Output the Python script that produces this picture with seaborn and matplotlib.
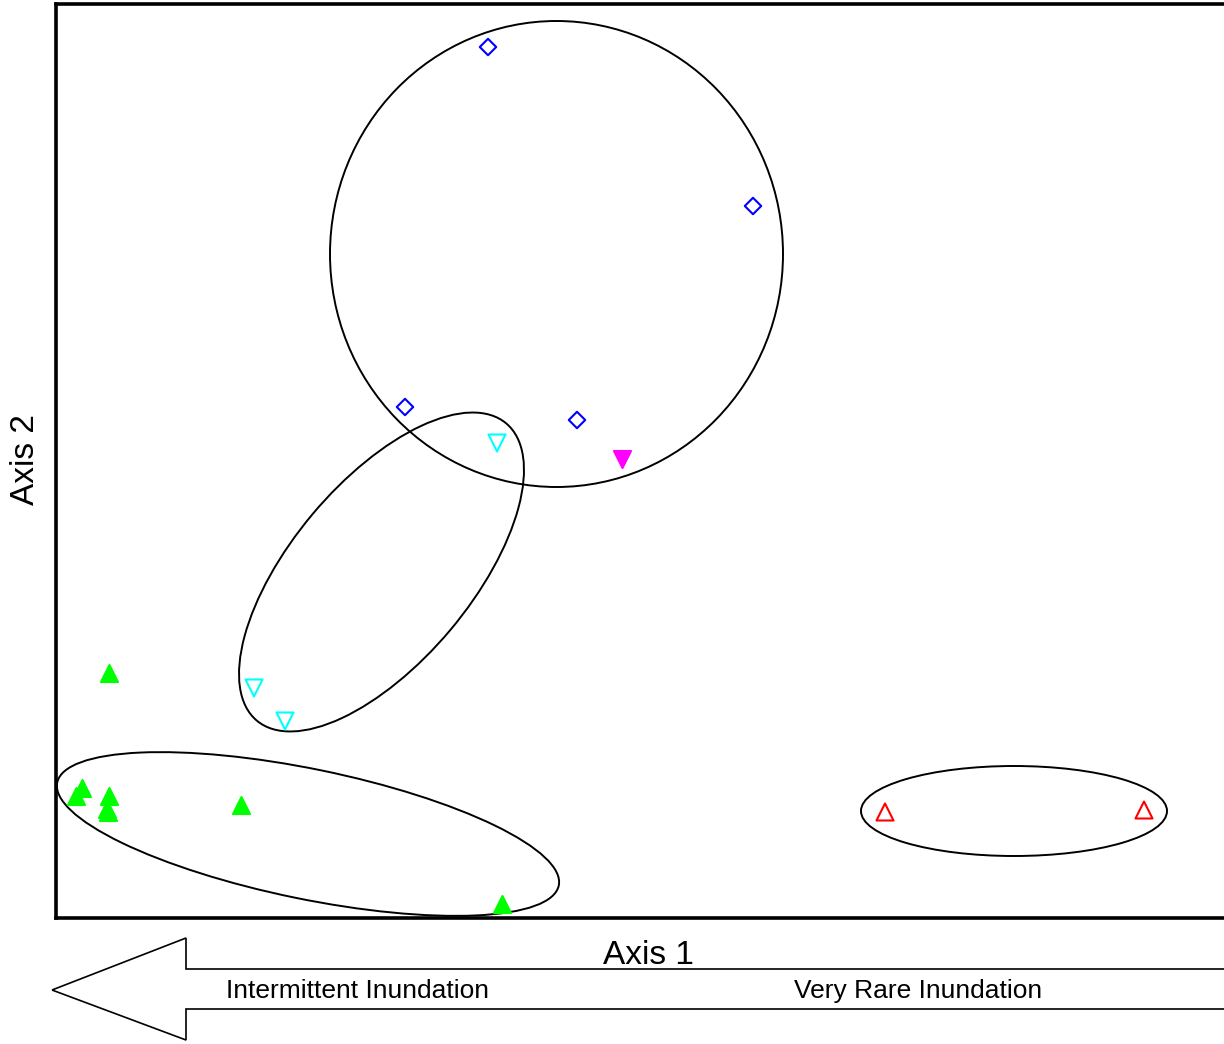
import numpy as np
import pandas as pd
import matplotlib
matplotlib.use("Agg")
import matplotlib.pyplot as plt
from matplotlib.patches import Ellipse, Polygon
from matplotlib import font_manager
import seaborn as sns

# ordination scores (arbitrary units, 10 units per 100 px)
blue_x = [43.2, 69.7, 34.9, 52.1]
blue_y = [87.1, 71.2, 51.1, 49.8]
cyan_x = [44.1, 19.8, 22.9]
cyan_y = [47.5, 23.0, 19.7]
magenta_x = [56.6]
magenta_y = [45.9]
green_x = [5.3, 2.6, 2.0, 5.3, 5.1, 5.2, 18.5, 44.6]
green_y = [24.5, 13.0, 12.2, 12.2, 10.9, 10.6, 11.3, 1.4]
red_x = [82.9, 108.8]
red_y = [10.6, 10.8]

# group ellipses: centre x, centre y, width, height, angle
ell_cx = [50.05, 32.55, 25.2, 95.8]
ell_cy = [66.4, 34.6, 8.4, 10.7]
ell_w = [45.3, 38.8, 51.2, 30.6]
ell_h = [46.6, 18.0, 13.0, 9.0]
ell_ang = [0, 50, -11.6, 0]

names = [f.name for f in font_manager.fontManager.ttflist]
fam = "Liberation Sans Narrow" if "Liberation Sans Narrow" in names else "Liberation Sans"

sns.set_style("white")
plt.rcParams["font.family"] = [fam, "DejaVu Sans"]
plt.rcParams["text.color"] = "black"

fig = plt.figure(figsize=(12.24, 10.44), dpi=100)
ax = fig.add_axes([56 / 1224, 126 / 1044, 1178 / 1224, 914 / 1044])

groups = [
    (blue_x, blue_y, "D", "#0000ff", "none", 70),
    (cyan_x, cyan_y, "v", "#00ffff", "none", 150),
    (magenta_x, magenta_y, "v", "#ff00ff", "#ff00ff", 150),
    (green_x, green_y, "^", "#00ff00", "#00ff00", 150),
    (red_x, red_y, "^", "#ff0000", "none", 150),
]
for gx, gy, m, c, fc, s in groups:
    sns.scatterplot(x=gx, y=gy, marker=m, color=c, facecolor=fc,
                    edgecolor=c, linewidth=1.5, s=s, ax=ax, zorder=3)

for cx, cy, w, h, a in zip(ell_cx, ell_cy, ell_w, ell_h, ell_ang):
    ax.add_patch(Ellipse((cx, cy), w, h, angle=a, fill=False,
                         edgecolor="black", linewidth=1.4))

ax.set_xlim(0, 117.8)
ax.set_ylim(0, 91.4)
ax.set_xticks([])
ax.set_yticks([])
for sp in ax.spines.values():
    sp.set_color("black")
    sp.set_linewidth(2.6)
ax.set_xlabel("")
ax.set_ylabel("")

fig.text(25 / 1224, 1 - 460 / 1044, "Axis 2", rotation=90, ha="center",
         va="center", fontsize=24)
fig.text(648 / 1224, 1 - 956 / 1044, "Axis 1", ha="center", va="center",
         fontsize=24)

# arrow along the bottom
arrow_px = [(52, 990), (186, 938), (186, 969), (1230, 969), (1230, 1009),
            (186, 1009), (186, 1040)]
arrow = Polygon([(x / 1224, 1 - y / 1044) for x, y in arrow_px],
                closed=True, fill=False, edgecolor="black", linewidth=1.2,
                transform=fig.transFigure)
fig.patches.append(arrow)
fig.text(358 / 1224, 1 - 991 / 1044, "Intermittent Inundation", ha="center",
         va="center", fontsize=19)
fig.text(918 / 1224, 1 - 991 / 1044, "Very Rare Inundation", ha="center",
         va="center", fontsize=19)

fig.savefig("out.png", dpi=100, facecolor="white")
